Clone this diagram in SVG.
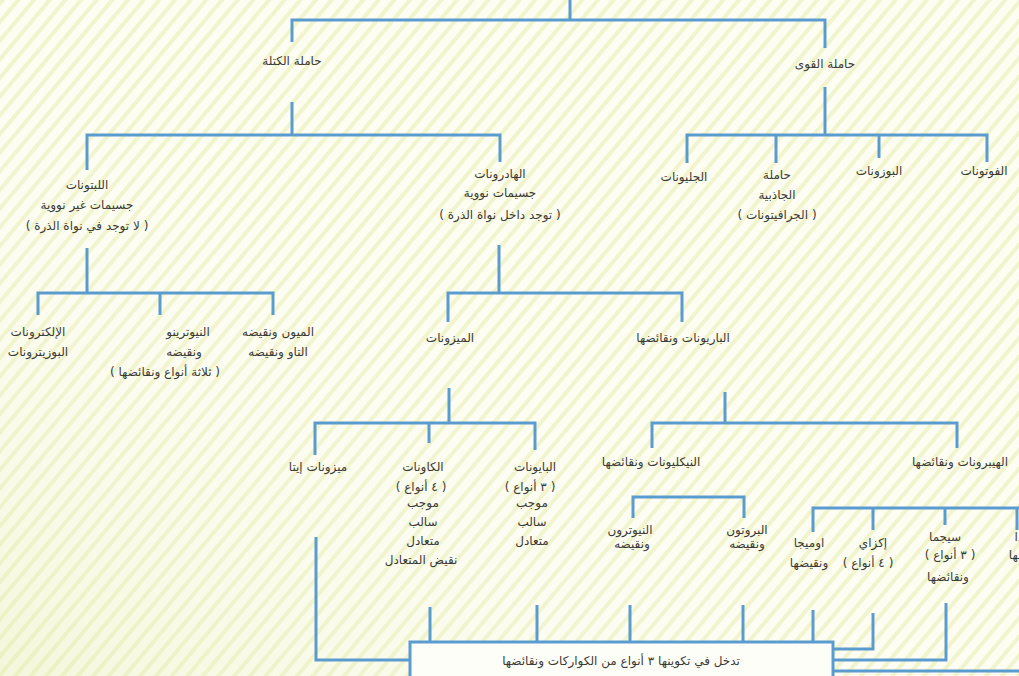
<svg xmlns="http://www.w3.org/2000/svg" width="1019" height="676" viewBox="0 0 1019 676">
<defs>
<pattern id="hatch" width="12" height="12" patternUnits="userSpaceOnUse" patternTransform="rotate(40)">
<rect width="12" height="12" fill="#fdfdf2"/>
<rect width="4" height="12" fill="#f1f4cc"/>
</pattern>
<linearGradient id="tint" x1="0" y1="1" x2="1" y2="0">
<stop offset="0" stop-color="#dfeaa8" stop-opacity="0.3"/>
<stop offset="0.5" stop-color="#ffffff" stop-opacity="0"/>
</linearGradient>
</defs>
<style>
.ln{fill:none;stroke:#5a9bd0;stroke-width:3;stroke-linejoin:miter;stroke-linecap:butt}
text{font-family:"DejaVu Sans",sans-serif;font-size:12px;fill:#3a3a35;text-anchor:middle;direction:rtl;unicode-bidi:embed}
.box{fill:#fefef8;stroke:#5a9bd0;stroke-width:3}
</style>
<rect width="1019" height="676" fill="url(#hatch)"/>
<rect width="1019" height="676" fill="url(#tint)"/>

<g id="connectors">
<path class="ln" d="M570,0 V20"/>
<path class="ln" d="M292,42 V20 H825 V48"/>
<path class="ln" d="M292,102 V135"/>
<path class="ln" d="M87,170 V135 H500 V162"/>
<path class="ln" d="M825,87 V135"/>
<path class="ln" d="M687,163 V135 H987 V162"/>
<path class="ln" d="M776,135 V163"/>
<path class="ln" d="M879,135 V158"/>
<path class="ln" d="M87,248 V293"/>
<path class="ln" d="M38,315 V293 H273 V315"/>
<path class="ln" d="M160,293 V315"/>
<path class="ln" d="M499,245 V293"/>
<path class="ln" d="M448,322 V293 H682 V322"/>
<path class="ln" d="M449,388 V423"/>
<path class="ln" d="M315,455 V423 H535 V450"/>
<path class="ln" d="M429,423 V443"/>
<path class="ln" d="M725,392 V423"/>
<path class="ln" d="M652,448 V423 H957 V448"/>
<path class="ln" d="M633,518 V497 H744 V518"/>
<path class="ln" d="M813,532 V508 H1019"/>
<path class="ln" d="M873,508 V530"/>
<path class="ln" d="M945,508 V525"/>
<path class="ln" d="M1017,508 V530"/>
<path class="ln" d="M316,537 V660 H410"/>
<path class="ln" d="M430,607 V642"/>
<path class="ln" d="M537,605 V642"/>
<path class="ln" d="M630,605 V642"/>
<path class="ln" d="M743,605 V642"/>
<path class="ln" d="M813,610 V642"/>
<path class="ln" d="M873,613 V649 H833"/>
<path class="ln" d="M946,603 V660 H833"/>
<path class="ln" d="M833,671 H1019"/>
</g>

<g id="mass-carriers"><text x="292" y="65">حاملة الكتلة</text></g>
<g id="force-carriers"><text x="825" y="68">حاملة القوى</text></g>

<g id="gluons"><text x="684" y="181">الجليونات</text></g>
<g id="gravitons"><text x="777" y="179">حاملة</text><text x="777" y="199">الجاذبية</text><text x="777" y="219">( الجرافيتونات )</text></g>
<g id="bosons"><text x="879" y="175">البوزونات</text></g>
<g id="photons"><text x="984" y="175">الفوتونات</text></g>

<g id="leptons"><text x="87" y="189">اللبتونات</text><text x="87" y="209">جسيمات غير نووية</text><text x="87" y="230">( لا توجد في نواة الذرة )</text></g>
<g id="hadrons"><text x="500" y="178">الهادرونات</text><text x="500" y="197">جسيمات نووية</text><text x="500" y="219">( توجد داخل نواة الذرة )</text></g>

<g id="electrons"><text x="38" y="336">الإلكترونات</text><text x="38" y="356">البوزيترونات</text></g>
<g id="neutrinos"><text x="188" y="336">النيوترينو</text><text x="184" y="356">ونقيضه</text><text x="165" y="376">( ثلاثة أنواع ونقائضها )</text></g>
<g id="muon-tau"><text x="278" y="336">الميون ونقيضه</text><text x="278" y="356">التاو ونقيضه</text></g>

<g id="mesons"><text x="450" y="342">الميزونات</text></g>
<g id="baryons"><text x="683" y="342">الباريونات ونقائضها</text></g>

<g id="eta-mesons"><text x="318" y="471">ميزونات إيتا</text></g>
<g id="kaons"><text x="423" y="471">الكاونات</text><text x="421" y="491">( ٤ أنواع )</text><text x="423" y="507">موجب</text><text x="423" y="526">سالب</text><text x="423" y="545">متعادل</text><text x="421" y="564">نقيض المتعادل</text></g>
<g id="pions"><text x="535" y="471">البايونات</text><text x="530" y="491">( ٣ أنواع )</text><text x="532" y="507">موجب</text><text x="532" y="526">سالب</text><text x="532" y="545">متعادل</text></g>

<g id="nucleons"><text x="651" y="466">النيكليونات ونقائضها</text></g>
<g id="hyperons"><text x="960" y="466">الهيبرونات ونقائضها</text></g>

<g id="neutron"><text x="630" y="534">النيوترون</text><text x="632" y="548">ونقيضه</text></g>
<g id="proton"><text x="747" y="534">البروتون</text><text x="747" y="548">ونقيضه</text></g>
<g id="omega"><text x="809" y="547">اوميجا</text><text x="809" y="567">ونقيضها</text></g>
<g id="xi"><text x="873" y="547">إكزاي</text><text x="868" y="567">( ٤ أنواع )</text></g>
<g id="sigma"><text x="945" y="541">سيجما</text><text x="950" y="559">( ٣ أنواع )</text><text x="948" y="581">ونقائضها</text></g>
<g id="lambda"><text x="1026" y="541">لامدا</text><text x="1028" y="559">ونقيضها</text></g>

<g id="quarks"><rect class="box" x="410" y="642" width="423" height="60"/><text x="621" y="665">تدخل في تكوينها ٣ أنواع من الكواركات ونقائضها</text></g>
</svg>
